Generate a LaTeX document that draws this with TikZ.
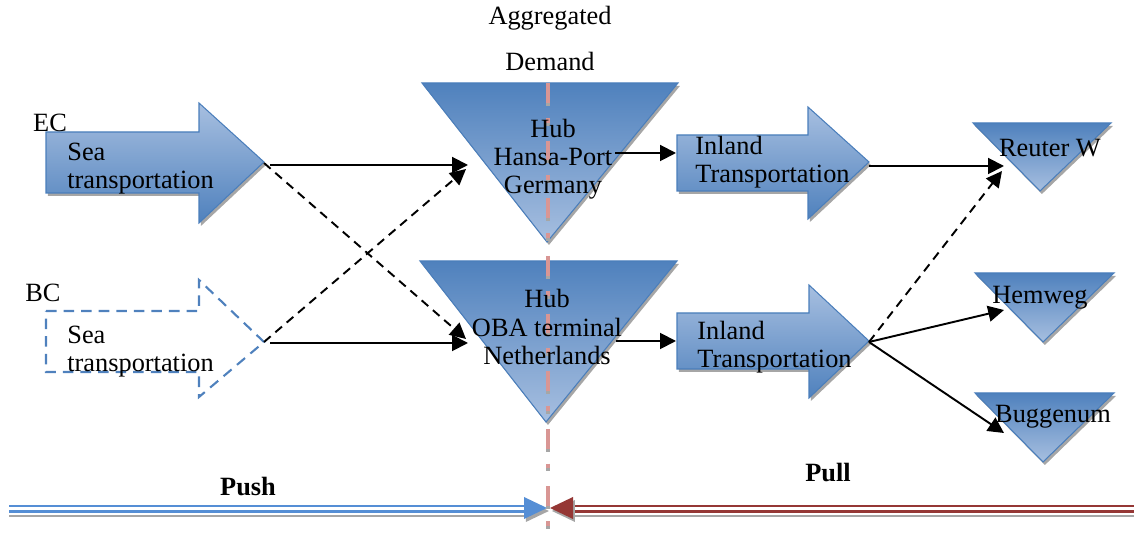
\documentclass[tikz,border=0pt]{standalone}
\usepackage{fontspec}
\setmainfont{Liberation Serif}
\usetikzlibrary{arrows.meta}

\definecolor{officeblue}{HTML}{4F81BD}
\definecolor{paleblue}{HTML}{A7BFE0}
\definecolor{edgeblue}{HTML}{4A7EBB}
\definecolor{barblue}{HTML}{558ED5}
\definecolor{barred}{HTML}{953735}
\definecolor{divpink}{HTML}{D99694}
\definecolor{shadowgray}{HTML}{A6A6A6}

\begin{document}
\begin{tikzpicture}[x=0.02cm,y=-0.02cm,font=\fontsize{15}{16}\selectfont,
 dropshadow/.style={preaction={fill=shadowgray,transform canvas={xshift=1.1pt,yshift=-1.7pt}}},
 blockarrow/.style={dropshadow, draw=edgeblue, line width=0.6pt, top color=paleblue, bottom color=officeblue},
 hubtri/.style={dropshadow, draw=edgeblue, line width=0.6pt, top color=officeblue, bottom color=paleblue},
 ghostarrow/.style={draw=officeblue, line width=1.2pt, dash pattern=on 6pt off 4pt},
 txt/.style={align=left, inner sep=0pt},
 ctxt/.style={align=center, inner sep=0pt},
 conn/.style={line width=1.1pt, -{Triangle[length=9pt,width=9pt]}},
 dashconn/.style={conn, dash pattern=on 5pt off 3.5pt},
 barline/.style={line width=1.1pt}]
\useasboundingbox (0,0) rectangle (1134,540);
% shapes
\path[blockarrow] (46,132) -- (199,132) -- (199,103) -- (264,162) -- (199,223) -- (199,193) -- (46,193) -- cycle;
\path[ghostarrow] (46,311) -- (199,311) -- (199,280) -- (264,342) -- (199,397) -- (199,372) -- (46,372) -- cycle;
\path[hubtri] (422,83) -- (678,83) -- (547,242) -- cycle;
\path[hubtri] (420,261) -- (677,261) -- (546,422) -- cycle;
\path[blockarrow] (677,135) -- (808,135) -- (808,107) -- (869,162) -- (808,219) -- (808,191) -- (677,191) -- cycle;
\path[blockarrow] (677,313) -- (809,313) -- (809,285) -- (869,341) -- (809,398) -- (809,369) -- (677,369) -- cycle;
\path[hubtri] (973,123) -- (1111,123) -- (1040,191) -- cycle;
\path[hubtri] (975,273) -- (1114,273) -- (1043,342) -- cycle;
\path[hubtri] (975,393) -- (1114,393) -- (1043,462) -- cycle;
% connector ends
\coordinate (ecTip) at (264,163);\coordinate (ecOut) at (270,165);\coordinate (bcTip) at (264,342);\coordinate (bcOut) at (270,343);
\coordinate (deIn) at (468,165);\coordinate (deIn2) at (466,169);\coordinate (nlIn) at (468,343);\coordinate (nlIn2) at (466,339);
\coordinate (deOut) at (615,153);\coordinate (nlOut) at (616,341);\coordinate (inDEin) at (676,153);\coordinate (inNLin) at (676,341);
\coordinate (inDEtip) at (869,166);\coordinate (inNLtip) at (869,342);
\coordinate (reuterIn) at (1004,166);\coordinate (reuterIn2) at (1002,171);\coordinate (hemIn) at (1004,310);\coordinate (bugIn) at (1004,433);
\draw[conn] (ecOut) -- (deIn);\draw[dashconn] (ecTip) -- (nlIn2);
\draw[conn] (bcOut) -- (nlIn);\draw[dashconn] (bcTip) -- (deIn2);
\draw[conn] (deOut) -- (inDEin);\draw[conn] (nlOut) -- (inNLin);
\draw[conn] (inDEtip) -- (reuterIn);\draw[dashconn] (inNLtip) -- (reuterIn2);
\draw[conn] (inNLtip) -- (hemIn);\draw[conn] (inNLtip) -- (bugIn);
% push / pull bar
\coordinate (pushL) at (9,0);\coordinate (pushR) at (526,0);\coordinate (pullL) at (571,0);\coordinate (pullR) at (1134,0);
\draw[barline, shadowgray] ([yshift=-516*0.02cm]pushL) -- ([yshift=-516*0.02cm]pushR);
\draw[barline, barblue] ([yshift=-506*0.02cm]pushL) -- ([yshift=-506*0.02cm]pushR);
\draw[barline, barblue, line width=1.7pt] ([yshift=-511.5*0.02cm]pushL) -- ([yshift=-511.5*0.02cm]pushR);
\draw[barline, shadowgray] ([yshift=-516*0.02cm]pullL) -- ([yshift=-516*0.02cm]pullR);
\draw[barline, barred] ([yshift=-506*0.02cm]pullL) -- ([yshift=-506*0.02cm]pullR);
\draw[barline, barred, line width=1.7pt] ([yshift=-511.5*0.02cm]pullL) -- ([yshift=-511.5*0.02cm]pullR);
\fill[dropshadow, barblue] (524,497) -- (547,508) -- (524,519) -- cycle;
\fill[dropshadow, barred] (573,497) -- (550,508) -- (573,519) -- cycle;
% divider
\draw[shadowgray, line width=2.2pt, dash pattern=on 11.3pt off 8.5pt on 2.8pt off 10.2pt] (548,86) -- (548,543);
\draw[divpink, line width=2.2pt, dash pattern=on 11.3pt off 8.5pt on 2.8pt off 10.2pt] (548,83) -- (548,540);
% labels
\node[ctxt] (aggr) at (550,18) {Aggregated};\node[ctxt] (demand) at (550,61) {Demand};
\node[ctxt] (ec) at (50,123) {EC};\node[ctxt] (bc) at (43,293) {BC};
\node[txt, anchor=west] (seaEC) at (67,169) {Sea\\transportation};
\node[txt, anchor=west] (seaBC) at (67,352) {Sea\\transportation};
\node[ctxt] (hubDE) at (553,159) {Hub\\Hansa-Port\\Germany};
\node[ctxt] (hubNL) at (547,327) {Hub\\OBA terminal\\Netherlands};
\node[txt, anchor=west] (inlandDE) at (695,162) {Inland\\Transportation};
\node[txt, anchor=west] (inlandNL) at (697,347) {Inland\\Transportation};
\node[ctxt] (reuter) at (1050,148) {Reuter W};\node[ctxt] (hemweg) at (1040,298) {Hemweg};\node[ctxt] (buggenum) at (1053,417) {Buggenum};
\node[ctxt, font=\fontsize{15}{16}\selectfont\bfseries] (push) at (248,487) {Push};
\node[ctxt, font=\fontsize{15}{16}\selectfont\bfseries] (pull) at (828,473) {Pull};
\end{tikzpicture}
\end{document}
